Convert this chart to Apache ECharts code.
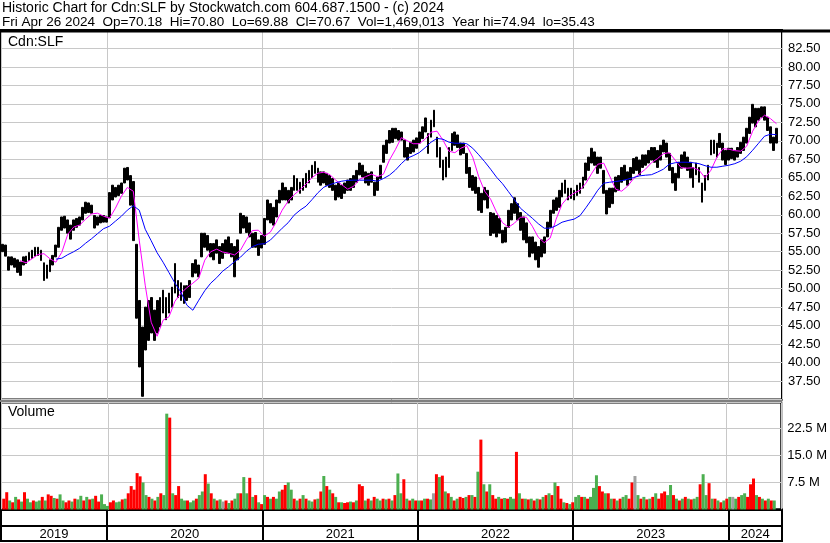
<!DOCTYPE html>
<html>
<head>
<meta charset="utf-8">
<script src="https://cdn.jsdelivr.net/npm/echarts@6/dist/echarts.min.js"></script>
<style>
html,body{margin:0;padding:0;background:#fff;}
#chart{width:830px;height:543px;}
</style>
</head>
<body>
<div id="chart"></div>
<script>
// ---- Data (weekly) ----
// week k (1..261) is the trading week ending Friday 2019-04-26 + 7k days
const headerLine1 = 'Historic Chart for Cdn:SLF by Stockwatch.com 604.687.1500 - (c) 2024';
const headerLine2 = 'Fri Apr 26 2024  Op=70.18  Hi=70.80  Lo=69.88  Cl=70.67  Vol=1,469,013  Year hi=74.94  lo=35.43';
const symbolName = 'Cdn:SLF';
const volumeName = 'Volume';

const weekLow = [
55.0,54.4,52.5,53.2,52.9,52.2,51.8,53.2,53.4,53.8,
54.1,54.4,54.5,53.8,51.1,51.4,52.3,53.2,54.3,55.6,
57.9,58.2,57.5,56.7,57.9,58.3,58.6,59.3,60.2,60.3,
60.2,58.2,58.6,58.9,59.0,59.0,59.6,62.0,62.4,62.6,
62.9,64.3,64.7,61.3,56.5,46.0,39.4,35.43,41.7,43.0,
44.0,43.0,44.0,44.8,46.7,45.8,46.7,47.5,49.4,48.8,
48.4,48.0,48.4,48.8,51.6,52.1,51.6,54.3,55.6,55.2,
54.3,53.9,54.8,53.4,54.1,54.8,54.8,54.3,51.6,53.9,
57.5,58.2,57.6,57.0,55.6,55.6,54.5,55.5,56.0,59.3,
58.9,58.6,59.7,61.6,62.0,62.0,61.6,62.0,63.3,63.3,
62.9,63.3,63.7,64.3,65.0,65.6,64.4,64.0,64.3,64.0,
63.7,63.3,62.0,62.4,62.2,62.9,63.3,63.3,63.7,64.4,
65.4,65.1,64.3,64.0,64.4,62.6,63.3,64.9,67.1,68.3,
69.7,69.8,70.3,70.1,70.1,67.8,67.4,68.3,68.5,69.0,
69.7,70.3,71.2,68.3,70.5,71.9,67.8,66.4,64.7,65.1,
66.4,68.7,69.4,69.1,68.1,68.3,65.6,63.7,63.3,62.9,
60.6,60.3,62.0,60.9,57.2,57.5,57.0,57.5,56.2,56.3,
58.3,59.3,60.2,59.3,57.9,56.6,56.2,54.3,54.8,53.9,
52.9,54.3,54.8,57.0,58.3,60.2,60.6,61.0,62.4,62.9,
62.0,62.2,62.0,62.6,62.9,63.6,64.7,66.0,67.0,66.7,
65.6,66.3,62.9,60.1,61.0,61.5,63.1,63.3,64.4,64.7,
64.0,64.7,65.6,66.0,65.4,66.4,66.7,67.0,67.4,67.1,
66.4,67.4,68.5,67.8,66.0,64.3,63.3,65.0,66.3,66.4,
66.0,65.0,63.7,65.4,64.4,61.7,63.3,64.7,68.1,68.3,
67.8,69.1,67.4,66.8,67.4,67.6,67.4,67.8,68.3,68.7,
69.7,71.0,72.4,71.9,72.8,73.2,72.8,71.4,69.7,68.7,69.7
];
const weekHigh = [
56.0,55.9,54.3,54.3,54.1,53.9,53.6,54.3,54.4,54.9,
55.2,55.6,55.6,55.2,53.5,53.2,53.9,54.5,55.9,58.3,
59.7,59.8,59.3,58.6,59.3,59.5,59.7,61.0,61.7,61.6,
61.3,59.9,59.7,59.9,59.9,59.7,63.0,64.0,63.7,64.0,
64.3,66.3,66.4,65.3,64.5,56.0,48.4,44.8,47.5,48.4,
48.8,47.1,48.4,48.8,49.8,48.8,49.4,50.2,53.4,51.1,
50.8,50.4,50.4,51.1,53.4,53.9,53.2,57.5,57.5,57.2,
56.1,56.1,56.6,55.7,56.1,56.6,57.0,56.1,55.7,56.6,
60.2,59.9,59.7,58.9,57.5,57.6,56.6,57.2,59.5,62.0,
61.5,61.0,62.0,63.3,64.3,63.7,63.3,63.7,65.3,64.9,
64.4,64.9,65.6,66.0,66.7,67.2,66.3,65.8,65.8,65.6,
65.3,64.9,64.0,64.3,64.0,64.3,64.7,64.9,65.3,66.0,
67.0,66.7,65.8,65.6,65.8,64.4,65.1,66.7,69.4,70.1,
71.4,71.7,71.7,71.4,71.2,70.1,69.1,69.8,70.1,70.4,
71.2,71.9,73.1,71.0,72.8,74.15,70.5,69.1,67.4,67.8,
69.1,71.0,71.2,70.8,69.7,69.7,68.3,66.4,65.3,65.1,
63.7,62.9,63.7,63.3,60.3,60.2,59.9,59.5,57.9,58.3,
60.6,61.5,62.3,61.5,60.3,59.7,58.9,57.0,57.0,56.3,
55.7,56.6,57.0,59.0,60.6,62.0,62.3,63.3,64.3,64.7,
63.6,63.6,63.3,64.0,64.3,65.1,67.0,67.8,69.0,68.5,
67.8,67.8,66.0,63.3,63.6,63.6,65.1,65.3,66.4,66.7,
65.8,66.4,67.6,67.8,67.4,68.1,68.1,68.7,69.1,69.1,
68.7,69.4,70.1,69.7,68.3,66.4,65.6,67.1,68.1,68.5,
67.8,67.1,66.4,67.0,66.4,64.3,65.3,66.7,70.1,70.1,
69.7,71.0,69.7,68.7,69.0,69.0,68.7,69.1,69.8,70.5,
71.7,73.2,74.94,74.4,74.4,74.6,74.6,73.2,71.9,70.5,71.7
];
// weekly volume, millions of shares
const weekVolume = [
3.0,4.8,2.5,2.0,3.5,2.8,2.2,4.8,3.0,2.0,
2.5,2.2,2.5,3.5,2.5,4.2,3.8,3.2,3.0,4.2,
2.5,2.0,2.5,2.2,3.0,2.8,3.8,2.5,3.5,2.8,
3.0,3.8,2.2,4.2,1.5,1.0,2.0,2.5,2.0,2.2,
2.8,3.0,4.5,6.5,5.5,10.1,9.2,7.5,4.0,3.5,
3.0,2.5,3.5,4.5,4.0,26.6,25.5,4.5,4.0,6.5,
3.0,2.5,2.5,2.0,2.5,3.0,4.0,5.0,9.8,7.2,
4.5,3.0,2.5,2.8,2.2,2.5,1.8,2.5,3.0,4.5,
4.5,9.0,4.5,8.8,3.5,4.0,2.0,1.5,4.0,3.5,
3.0,3.5,3.0,5.0,5.5,6.8,7.5,5.5,3.0,2.5,
3.0,4.0,3.0,2.5,2.2,2.8,3.0,5.0,9.3,6.5,
5.5,4.5,3.5,2.0,2.0,1.8,2.0,2.2,2.0,2.5,
7.0,6.5,2.5,3.0,2.5,3.5,3.0,2.5,3.0,2.8,
3.0,2.5,4.0,10.0,4.5,8.4,3.0,2.5,3.0,2.5,
2.5,2.5,3.0,3.0,2.8,4.5,9.8,9.0,9.4,5.0,
4.5,3.5,2.5,3.0,3.5,3.2,3.5,4.0,4.0,3.5,
10.5,19.4,7.0,5.0,7.0,4.0,3.0,3.5,3.0,3.2,
3.0,3.5,3.0,16.0,4.5,3.0,3.0,2.8,3.0,2.5,
3.0,2.8,3.5,4.0,4.5,4.0,7.5,6.5,3.0,2.0,
1.8,1.5,2.0,3.5,4.0,3.5,3.5,3.0,3.5,6.0,
9.5,6.5,5.0,4.5,4.5,3.0,3.0,2.5,3.0,3.5,
4.0,3.0,7.5,9.3,4.0,3.0,3.5,2.8,3.0,3.5,
4.5,3.0,4.5,5.0,4.0,6.8,4.0,3.0,2.5,3.0,
3.5,3.0,2.8,3.0,3.5,7.0,9.8,4.0,7.3,3.0,
3.0,2.5,2.0,2.5,3.0,3.5,3.5,3.0,3.5,4.0,
4.5,3.5,7.0,8.6,4.0,3.5,3.0,2.5,3.0,2.5,2.5
];
// g = up, r = down, n = unchanged
const weekVolumeDir = (
'rrgrgrgrgg'+'rggrgrrgrg'+'grrgrggrgr'+'grrgggrrgg'+'rgrrrrrggr'+
'grgrggrgrr'+'ggrggrggrg'+'rgrgnrgrgg'+'rggrgrgrgr'+'grggrrggrg'+
'rgrggrgrgr'+'grgrgrrgrg'+'rrgrgrggrg'+'rgrggrgrgr'+'grgrgnrgrg'+
'rgrgrrgrgr'+'grgrgrrgrg'+'rggrgrgrgr'+'grgrgrgrrg'+'rgrggrgrgg'+
'grrgrgrgrg'+'grrngrgrgr'+'grrrggrgrg'+'rgrggrggrg'+'rgrgrgngrg'+
'grrrgrgrgrg').split('');

// short moving average (magenta), read every 2 weeks from week 7
const shortMA = [
53.78,53.5,54.05,54.62,54.73,54.05,53.58,54.93,57.37,58.34,
58.61,59.4,60.11,60.21,59.8,59.53,60.89,62.51,63.69,63.19,
56.56,50.47,45.46,43.56,45.73,46.2,48.3,49.38,50.13,50.74,
51.41,53.85,55.0,55.34,54.96,54.8,54.56,55.2,56.63,57.87,
57.91,57.1,57.64,58.99,60.62,61.83,62.71,63.39,64.13,65.01,
65.62,65.76,65.42,64.68,64.07,63.46,63.86,64.81,65.15,65.49,
65.15,65.49,67.38,68.8,70.43,70.02,69.61,69.61,70.22,71.17,
71.31,70.09,68.6,68.4,69.0,69.34,67.79,65.15,63.19,62.1,
60.34,58.92,58.31,58.86,59.67,59.67,58.45,56.96,56.22,56.83,
59.4,61.43,62.37,62.92,63.32,64.27,65.62,66.84,66.98,65.22,
63.46,63.19,63.86,64.88,65.55,66.16,67.04,67.58,68.26,68.4,
67.38,66.37,66.3,66.37,66.03,65.01,66.03,67.79,68.94,68.87,
68.67,68.6,69.28,71.31,72.73,73.47,73.0,72.32
];
const shortMAStart = 7;
// long moving average (blue), read every 2 weeks from week 19
const longMA = [
53.99,54.12,54.6,55.0,55.47,56.15,56.76,57.44,58.11,58.45,
59.13,59.8,60.62,61.22,60.62,58.04,56.49,54.86,53.58,52.16,
50.74,49.52,47.76,47.08,48.44,49.72,50.74,51.48,52.36,52.97,
53.65,54.26,55.07,55.68,56.01,56.08,56.56,57.37,58.18,58.92,
59.94,60.62,61.16,62.04,62.98,63.73,64.07,64.34,64.54,64.65,
64.68,64.68,64.68,64.68,64.54,64.9,65.35,66.03,66.91,67.65,
67.99,68.4,69.07,69.82,70.33,70.22,69.82,69.68,69.68,69.61,
69.0,68.12,67.18,66.16,65.08,64.2,63.12,62.04,60.89,60.21,
59.53,58.79,58.18,58.18,58.52,58.99,59.22,59.4,59.87,60.95,
62.1,63.32,64.27,64.4,64.5,64.61,64.81,65.04,65.26,65.35,
65.42,65.76,66.16,66.84,67.04,67.11,67.11,67.04,66.91,66.64,
66.43,66.43,66.57,66.7,66.91,67.25,67.85,68.73,69.68,70.63,
70.9,70.83
];
const longMAStart = 19;

// ---- helpers ----
function weekTime(k) { return new Date(2019, 3, 23 + 7 * k).getTime(); }
const xMin = new Date(2019, 3, 27).getTime();
const xMax = new Date(2024, 4, 6).getTime();
const DAY = 86400000;

const priceData = weekHigh.map((h, j) => [weekTime(j + 1), weekLow[j], h, weekLow[j], h]);
const shortData = shortMA.map((v, j) => [weekTime(shortMAStart + 2 * j), v]);
const longData = longMA.map((v, j) => [weekTime(longMAStart + 2 * j), v]);
const volColors = { g: '#4caf50', r: '#ff0000', n: '#a0a0a0' };
const volData = weekVolume.map((v, j) => ({
  value: [weekTime(j + 1), v],
  itemStyle: { color: volColors[weekVolumeDir[j]] }
}));

// year label positions: middle of each visible year segment
const bounds = [xMin];
for (let y = 2020; y <= 2024; y++) bounds.push(new Date(y, 0, 1).getTime());
bounds.push(xMax);
const yearMids = [];
for (let j = 0; j < bounds.length - 1; j++) yearMids.push((bounds[j] + bounds[j + 1]) / 2);

const FONT = 'Liberation Sans, Arial, sans-serif';
const gridCol = '#c8c8c8';
const txt = (s, left, top, size) => ({
  text: s, left: left, top: top, padding: 0,
  textStyle: { fontFamily: FONT, fontSize: size, fontWeight: 'normal', color: '#000' }
});

const timeAxisBase = {
  type: 'time', min: xMin, max: xMax,
  minInterval: 365 * DAY, maxInterval: 366 * DAY,
  axisLine: { show: false }, axisTick: { show: false }
};

const chart = echarts.init(document.getElementById('chart'), null, { renderer: 'canvas' });
chart.setOption({
  animation: false,
  backgroundColor: '#ffffff',
  textStyle: { fontFamily: FONT },
  title: [
    txt(headerLine1, 2, 1, 14),
    txt(headerLine2, 2, 15.5, 13.5),
    txt(symbolName, 8, 35, 14),
    txt(volumeName, 8, 405, 14)
  ],
  graphic: [{
    type: 'line', silent: true, z: 100,
    shape: { x1: 0, y1: 31, x2: 830, y2: 31 },
    style: { stroke: '#000', lineWidth: 3 }
  }],
  grid: [
    { left: 1, right: 48, top: 30, height: 369.5, show: true, borderColor: '#000', borderWidth: 2, containLabel: false },
    { left: 1, right: 48, top: 402.5, height: 107, show: true, borderColor: '#000', borderWidth: 2, containLabel: false },
    { left: 1, right: 48, top: 509.5, height: 31.5, show: true, borderColor: '#000', borderWidth: 2, containLabel: false }
  ],
  xAxis: [
    Object.assign({}, timeAxisBase, { gridIndex: 0, axisLabel: { show: false },
      splitLine: { show: true, lineStyle: { color: gridCol, width: 1 } } }),
    Object.assign({}, timeAxisBase, { gridIndex: 1, axisLabel: { show: false },
      splitLine: { show: true, lineStyle: { color: gridCol, width: 1 } } }),
    Object.assign({}, timeAxisBase, { gridIndex: 2, position: 'bottom', axisLabel: { show: false },
      splitLine: { show: true, lineStyle: { color: '#000', width: 2 } } }),
    { type: 'value', gridIndex: 2, position: 'top', min: xMin, max: xMax,
      axisLine: { show: false }, axisTick: { show: false }, splitLine: { show: false },
      axisLabel: {
        show: true, customValues: yearMids, inside: true, margin: 25, verticalAlign: 'middle',
        formatter: v => String(new Date(v).getFullYear()),
        color: '#000', fontSize: 13, fontFamily: FONT
      } }
  ],
  yAxis: [
    { type: 'value', gridIndex: 0, position: 'right', min: 35, max: 85, interval: 2.5,
      axisLine: { show: false }, axisTick: { show: false },
      axisLabel: { margin: 6, color: '#000', fontSize: 13, fontFamily: FONT,
        formatter: v => (v <= 35 || v >= 85) ? '' : v.toFixed(2) },
      splitLine: { show: true, lineStyle: { color: gridCol, width: 1 } } },
    { type: 'value', gridIndex: 1, position: 'right', min: 0, max: 29.7, interval: 7.5,
      axisLine: { show: false }, axisTick: { show: false },
      axisLabel: { margin: 6, color: '#000', fontSize: 13, fontFamily: FONT,
        formatter: v => (v > 0 && v < 29) ? v.toFixed(1) + ' M' : '' },
      splitLine: { show: true, lineStyle: { color: gridCol, width: 1 } } },
    { type: 'value', gridIndex: 2, min: 0, max: 2, interval: 1,
      axisLine: { show: false }, axisTick: { show: false }, axisLabel: { show: false },
      splitLine: { show: true, lineStyle: { color: '#000', width: 2 } } }
  ],
  series: [
    { type: 'candlestick', name: 'price', xAxisIndex: 0, yAxisIndex: 0,
      data: priceData, encode: { x: 0, y: [1, 2, 3, 4] },
      barWidth: 2.3, silent: true,
      itemStyle: { color: '#000', color0: '#000', borderColor: '#000', borderColor0: '#000', borderWidth: 1 } },
    { type: 'line', name: 'shortMA', xAxisIndex: 0, yAxisIndex: 0, data: shortData,
      showSymbol: false, silent: true, z: 3, lineStyle: { color: '#ff00ff', width: 1 } },
    { type: 'line', name: 'longMA', xAxisIndex: 0, yAxisIndex: 0, data: longData,
      showSymbol: false, silent: true, z: 3, lineStyle: { color: '#0000ff', width: 1 } },
    { type: 'bar', name: 'volume', xAxisIndex: 1, yAxisIndex: 1, data: volData,
      barWidth: 3, silent: true }
  ]
});
</script>
</body>
</html>
